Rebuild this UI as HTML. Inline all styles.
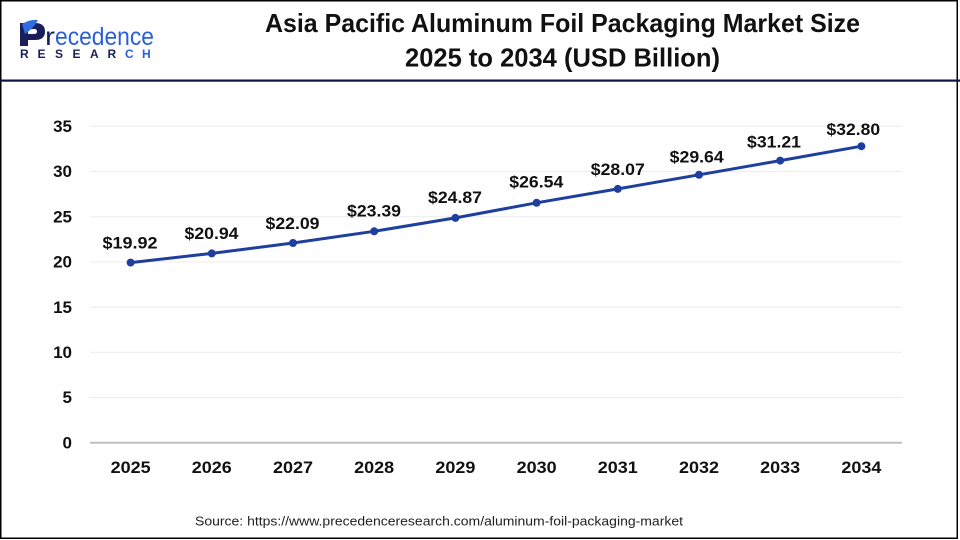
<!DOCTYPE html>
<html>
<head>
<meta charset="utf-8">
<style>
html,body{margin:0;padding:0;background:#fff;}
svg{display:block;}
text{font-family:"Liberation Sans",Arial,sans-serif;}
</style>
</head>
<body>
<svg width="960" height="540" viewBox="0 0 960 540" xmlns="http://www.w3.org/2000/svg">
  <rect x="0" y="0" width="960" height="540" fill="#fff"/>
  <!-- frame -->
  <rect x="0.75" y="0.75" width="956.5" height="537.5" fill="none" stroke="#000" stroke-width="1.5"/>
  <!-- header separator -->
  <rect x="0" y="79.5" width="960" height="2.2" fill="#0f1446"/>

  <!-- logo -->
  <g>
    <path d="M20 23 L35 23 Q45 23 45 31.5 Q45 40 35 40 L28 40 L28 46 L20 46 Z M28 29 L28 34 L34 34 Q37 34 37 31.5 Q37 29 34 29 Z" fill="#1a1f5c"/>
    <path d="M22 24 Q30 19 38 20 Q34 28 25 34 Z" fill="#2f6de0"/>
    <text x="45" y="45" font-size="25" fill="#1a1f5c" textLength="10" lengthAdjust="spacingAndGlyphs">r</text>
    <text x="55" y="45" font-size="25" fill="#2b5fd9" textLength="99" lengthAdjust="spacingAndGlyphs">ecedence</text>
    <g font-size="12" font-weight="bold" fill="#1a1f5c">
      <text x="20" y="58">R</text>
      <text x="37.5" y="58">E</text>
      <text x="55" y="58">S</text>
      <text x="72.5" y="58">E</text>
      <text x="90" y="58">A</text>
      <text x="107.5" y="58">R</text>
    </g>
    <g font-size="12" font-weight="bold" fill="#2b5fd9">
      <text x="125" y="58">C</text>
      <text x="142" y="58">H</text>
    </g>
  </g>

  <!-- title -->
  <text x="562.5" y="32" font-size="26" font-weight="bold" fill="#111" text-anchor="middle" textLength="595" lengthAdjust="spacingAndGlyphs">Asia Pacific Aluminum Foil Packaging Market Size</text>
  <text x="562.5" y="66.5" font-size="26" font-weight="bold" fill="#111" text-anchor="middle" textLength="315" lengthAdjust="spacingAndGlyphs">2025 to 2034 (USD Billion)</text>

  <!-- gridlines -->
  <g stroke="#ececec" stroke-width="1">
    <line x1="90" y1="126.3" x2="902" y2="126.3"/>
    <line x1="90" y1="171.5" x2="902" y2="171.5"/>
    <line x1="90" y1="216.7" x2="902" y2="216.7"/>
    <line x1="90" y1="261.9" x2="902" y2="261.9"/>
    <line x1="90" y1="307.1" x2="902" y2="307.1"/>
    <line x1="90" y1="352.3" x2="902" y2="352.3"/>
    <line x1="90" y1="397.5" x2="902" y2="397.5"/>
  </g>
  <line x1="90" y1="442.7" x2="902" y2="442.7" stroke="#bfbfbf" stroke-width="2"/>

  <!-- y labels -->
  <g font-size="17" font-weight="bold" fill="#111" text-anchor="end">
    <text x="72" y="132">35</text>
    <text x="72" y="177.2">30</text>
    <text x="72" y="222.4">25</text>
    <text x="72" y="267.6">20</text>
    <text x="72" y="312.8">15</text>
    <text x="72" y="358">10</text>
    <text x="72" y="403.2">5</text>
    <text x="72" y="448.4">0</text>
  </g>

  <!-- x labels -->
  <g font-size="17" font-weight="bold" fill="#111" text-anchor="middle">
    <text x="130.6" y="473" textLength="40" lengthAdjust="spacingAndGlyphs">2025</text>
    <text x="211.8" y="473" textLength="40" lengthAdjust="spacingAndGlyphs">2026</text>
    <text x="293" y="473" textLength="40" lengthAdjust="spacingAndGlyphs">2027</text>
    <text x="374.2" y="473" textLength="40" lengthAdjust="spacingAndGlyphs">2028</text>
    <text x="455.4" y="473" textLength="40" lengthAdjust="spacingAndGlyphs">2029</text>
    <text x="536.6" y="473" textLength="40" lengthAdjust="spacingAndGlyphs">2030</text>
    <text x="617.8" y="473" textLength="40" lengthAdjust="spacingAndGlyphs">2031</text>
    <text x="699" y="473" textLength="40" lengthAdjust="spacingAndGlyphs">2032</text>
    <text x="780.2" y="473" textLength="40" lengthAdjust="spacingAndGlyphs">2033</text>
    <text x="861.4" y="473" textLength="40" lengthAdjust="spacingAndGlyphs">2034</text>
  </g>

  <!-- series -->
  <polyline fill="none" stroke="#1e3f9e" stroke-width="3" stroke-linejoin="round"
    points="130.6,262.6 211.8,253.4 293,243 374.2,231.3 455.4,217.9 536.6,202.8 617.8,188.9 699,174.8 780.2,160.6 861.4,146.2"/>
  <g fill="#1e3f9e">
    <circle cx="130.6" cy="262.6" r="4"/>
    <circle cx="211.8" cy="253.4" r="4"/>
    <circle cx="293" cy="243" r="4"/>
    <circle cx="374.2" cy="231.3" r="4"/>
    <circle cx="455.4" cy="217.9" r="4"/>
    <circle cx="536.6" cy="202.8" r="4"/>
    <circle cx="617.8" cy="188.9" r="4"/>
    <circle cx="699" cy="174.8" r="4"/>
    <circle cx="780.2" cy="160.6" r="4"/>
    <circle cx="861.4" cy="146.2" r="4"/>
  </g>

  <!-- data labels -->
  <g font-size="17" font-weight="bold" fill="#111" text-anchor="middle">
    <text x="130" y="248.4" textLength="55" lengthAdjust="spacingAndGlyphs">$19.92</text>
    <text x="211.5" y="239.2" textLength="54" lengthAdjust="spacingAndGlyphs">$20.94</text>
    <text x="292.5" y="229" textLength="54" lengthAdjust="spacingAndGlyphs">$22.09</text>
    <text x="374" y="216.3" textLength="54" lengthAdjust="spacingAndGlyphs">$23.39</text>
    <text x="455" y="203.2" textLength="54" lengthAdjust="spacingAndGlyphs">$24.87</text>
    <text x="536.3" y="187.5" textLength="54" lengthAdjust="spacingAndGlyphs">$26.54</text>
    <text x="617.8" y="175" textLength="54" lengthAdjust="spacingAndGlyphs">$28.07</text>
    <text x="696.7" y="162.3" textLength="54" lengthAdjust="spacingAndGlyphs">$29.64</text>
    <text x="774" y="147.7" textLength="54" lengthAdjust="spacingAndGlyphs">$31.21</text>
    <text x="853.3" y="135" textLength="53.5" lengthAdjust="spacingAndGlyphs">$32.80</text>
  </g>

  <!-- source -->
  <text x="195" y="525.5" font-size="13" fill="#222" textLength="488" lengthAdjust="spacingAndGlyphs">Source: https://www.precedenceresearch.com/aluminum-foil-packaging-market</text>
</svg>
</body>
</html>
